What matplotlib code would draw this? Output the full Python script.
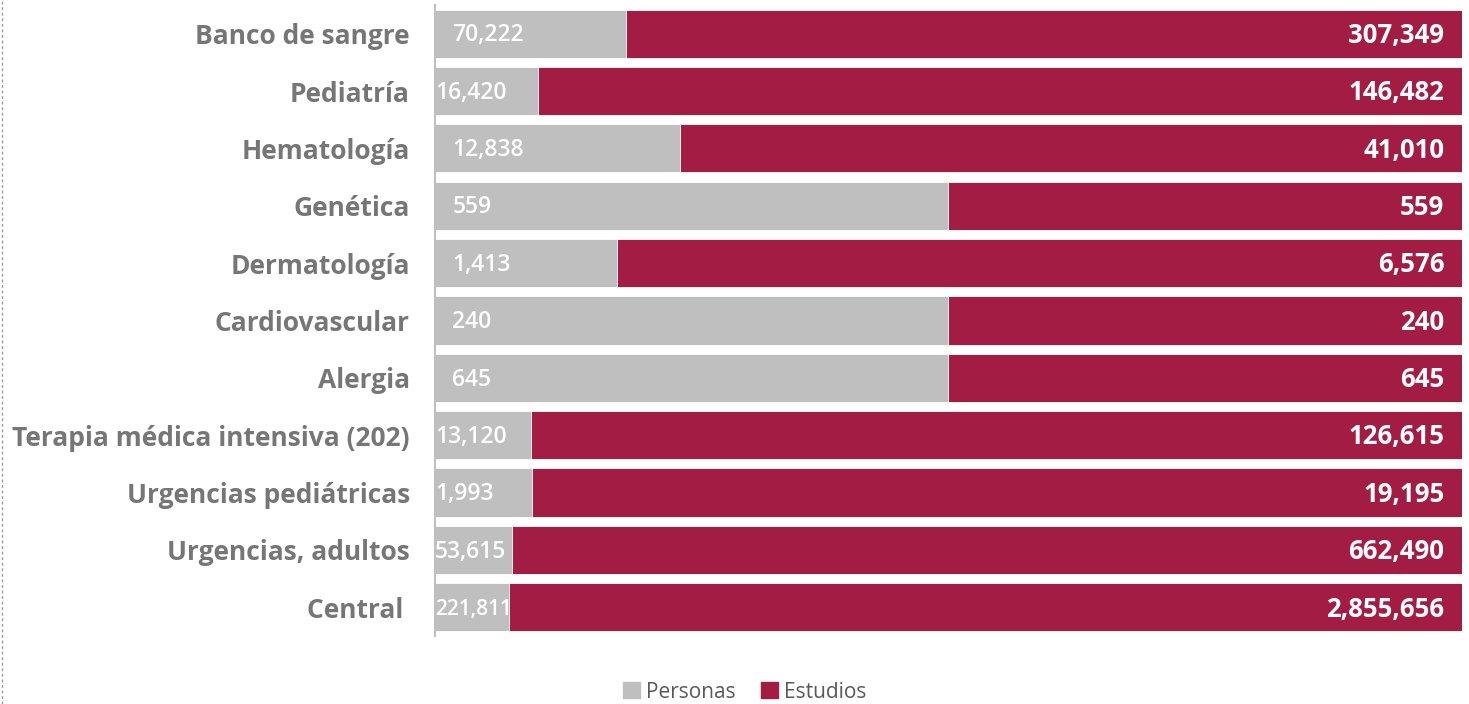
import matplotlib
matplotlib.use("Agg")
import matplotlib.pyplot as plt
from matplotlib.lines import Line2D
from matplotlib.patches import Patch
import numpy as np

plt.rcParams['font.family'] = ['Open Sans', 'DejaVu Sans']

areas = ["Banco de sangre", "Pediatría", "Hematología", "Genética", "Dermatología",
         "Cardiovascular", "Alergia", "Terapia médica intensiva (202)",
         "Urgencias pediátricas", "Urgencias, adultos", "Central "]
personas = [70222, 16420, 12838, 559, 1413, 240, 645, 13120, 1993, 53615, 221811]
estudios = [307349, 146482, 41010, 559, 6576, 240, 645, 126615, 19195, 662490, 2855656]

gris = "#BFBFBF"
guinda = "#A21C43"

per = np.array(personas, dtype=float)
est = np.array(estudios, dtype=float)
total = per + est
p_frac = per / total
e_frac = est / total

fig = plt.figure(figsize=(14.69, 7.04), dpi=100)
ax = fig.add_axes([0.2961, 0.0966, 0.6991, 0.8963])

y = np.arange(len(areas))
ax.barh(y, p_frac, height=0.84, color=gris, edgecolor="white", linewidth=0.6)
ax.barh(y, e_frac, left=p_frac, height=0.84, color=guinda, edgecolor="white", linewidth=0.6)

for i in range(len(areas)):
    xl = 0.017 if p_frac[i] > 0.12 else 0.0
    fs = 16.5 if p_frac[i] > 0.074 else 15
    ax.text(xl, y[i] + 0.03, f"{personas[i]:,}", ha="left", va="center",
            color="white", fontsize=fs, fontweight="semibold")
    ax.text(0.983, y[i] + 0.03, f"{estudios[i]:,}", ha="right", va="center",
            color="white", fontsize=18.5, fontweight="bold")

ax.set_xlim(0, 1)
ax.set_ylim(len(areas) - 0.5, -0.5)
ax.set_yticks(y)
ax.set_yticklabels(areas, fontsize=19, fontweight="bold", color="#767676")
ax.tick_params(axis="y", length=0, pad=18)
ax.set_xticks([])
for s in ["top", "right", "bottom"]:
    ax.spines[s].set_visible(False)
ax.spines["left"].set_color(gris)
ax.spines["left"].set_linewidth(1.5)

# linea punteada del borde izquierdo
fig.add_artist(Line2D([0.0015, 0.0015], [0, 1], transform=fig.transFigure,
                      color="#9A9A9A", linestyle=(0, (2, 2)), linewidth=1))

handles = [Patch(color=gris, label="Personas"), Patch(color=guinda, label="Estudios")]
fig.legend(handles=handles, loc="center", bbox_to_anchor=(0.507, 0.017), ncol=2,
           frameon=False, fontsize=15, handlelength=0.8, handleheight=0.8,
           handletextpad=0.3, columnspacing=1.2, labelcolor="#595959")

fig.savefig("out.png", dpi=100, facecolor="white")
